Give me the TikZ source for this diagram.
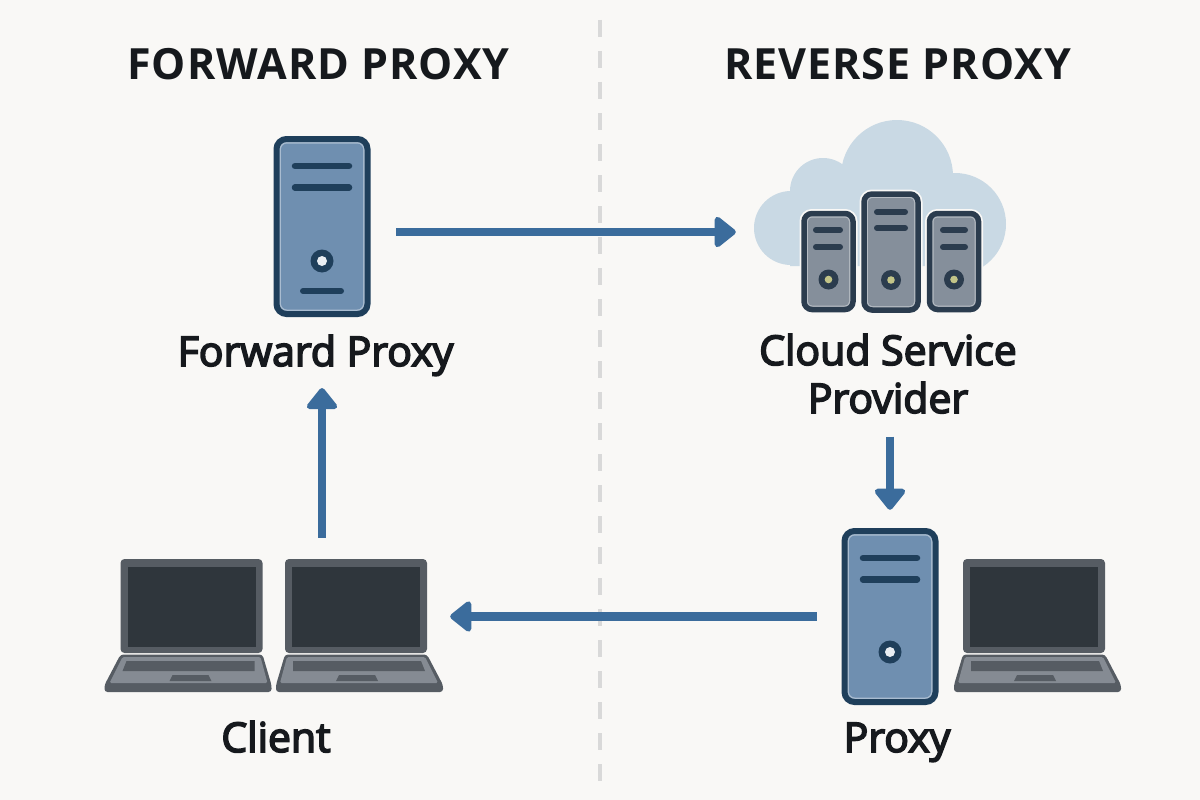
\documentclass[tikz,border=0pt]{standalone}
\usepackage{fontspec}
\setmainfont{Open Sans}
\newfontfamily\labelfont[FakeBold=4]{Open Sans}
\newfontfamily\headfont[LetterSpace=2.3]{Open Sans}
\usetikzlibrary{arrows.meta, positioning}

\definecolor{paper}{HTML}{F9F8F6}
\definecolor{inkblack}{HTML}{16191D}
\definecolor{arrowblue}{HTML}{3B6C9C}
\definecolor{towerdark}{HTML}{1F3F5B}
\definecolor{towerfill}{HTML}{6F8FB0}
\definecolor{rackdark}{HTML}{2B3C4E}
\definecolor{rackfill}{HTML}{858F9B}
\definecolor{cloudfill}{HTML}{C9D9E4}
\definecolor{lapcase}{HTML}{565C63}
\definecolor{lapbase}{HTML}{858B93}
\definecolor{lapscreen}{HTML}{2F363C}
\definecolor{knoblight}{HTML}{C2C488}

\tikzset{
	pics/tower/.style 2 args={code={
		\draw[towerdark, line width=6pt, fill=white!40!towerfill, rounded corners=10pt] (-45.5,-#1) rectangle (45.5,#1);
		\fill[towerfill, rounded corners=6pt] (-41,-#1+4.5) rectangle (41,#1-4.5);
		\draw[towerdark, line width=6.5pt, line cap=round] (-27,-#1+27) -- (27,-#1+27) (-27,-#1+48.5) -- (27,-#1+48.5);
		\fill[towerdark] (0,#2) circle (11.5pt);
		\fill[white!85!towerfill] (0,#2) circle (5pt);
	}},
	pics/rack/.style 2 args={code={
		\draw[paper, line width=9pt, rounded corners=8pt] (-#1,-#2) rectangle (#1,#2);
		\draw[rackdark, line width=5.5pt, fill=white!40!rackfill, rounded corners=8pt] (-#1,-#2) rectangle (#1,#2);
		\fill[rackfill, rounded corners=4pt] (-#1+4,-#2+4) rectangle (#1-4,#2-4);
		\fill[rackdark] (0,#2-30) circle (10pt);
		\fill[knoblight] (0,#2-30) circle (3.8pt);
	}},
	pics/laptop/.style={code={
		% lid, then base, keys and pad
		\fill[lapcase, rounded corners=4pt] (-71,-47) rectangle (71,47);
		\fill[lapscreen] (-64,-39) rectangle (64,41);
		\fill[lapcase, rounded corners=3pt] (-71,48.5) -- (71,48.5) -- (87,79) -- (87,86) -- (-80,86) -- (-80,79) -- cycle;
		\fill[lapbase, rounded corners=1.5pt] (-69,51) -- (69,51) -- (82,77) -- (-76,77) -- cycle;
		\fill[lapcase] (-63,55) -- (65,55) -- (69,65) -- (-63,65) -- cycle;
		\fill[lapcase] (-17,69) -- (19,69) -- (22,75) -- (-20,75) -- cycle;
	}}
}

\begin{document}
\begin{tikzpicture}
% style
	[x=1pt, y=-1pt,
	title/.style={font=\headfont\bfseries\fontsize{43}{43}\selectfont, text=inkblack, inner sep=0pt},
	caption/.style={font=\labelfont\fontsize{41}{48}\selectfont, text=inkblack, inner sep=0pt, align=center},
	box/.style={rectangle, inner sep=0pt, minimum width=#1},
	link/.style={draw=arrowblue, line width=8.5pt, -{Triangle[length=23pt, width=35pt, round]}}]

	\fill[paper] (0,0) rectangle (1200,800);
	\draw[black!15, line width=3.5pt, dash pattern=on 17pt off 14pt] (600,20) -- (600,790);

	% headings
	\node [title] (forward) at (318.5,64) {FORWARD PROXY};
	\node [title] (reverse) at (897.5,64) {REVERSE PROXY};

	% forward proxy
	\node [box=96pt, minimum height=175pt] (fwdbox) at (322,226.5) {};
	\pic at (fwdbox) {tower={87.5}{34.5}};
	\draw[towerdark, line width=6pt, line cap=round] (303,291) -- (341,291);
	\node [caption, anchor=base] (fwdlabel) at (315.5,366) {Forward Proxy};

	% cloud
	\fill[cloudfill] (897,176) circle (56pt) (823,191) circle (33pt) (791,228) circle (37pt)
		(955,224) circle (51pt) (790,190) rectangle (957,266);
	\node [box=252pt, minimum height=190pt] (cloud) at (880,217) {};
	\pic at (828.5,261.5) {rack={24.5}{48}};
	\pic at (954,261.5) {rack={24.5}{48}};
	\pic at (891,252) {rack={27}{58}};
	\draw[rackdark, line width=6pt, line cap=round]
		(816,230) -- (840,230) (816,247) -- (840,247)
		(877,212) -- (905,212) (877,228) -- (905,228)
		(943,230) -- (965,230) (943,247) -- (965,247);
	\node [caption, anchor=base] (cloudlabel) at (888,413) {Cloud Service\\Provider};

	% proxy
	\node [box=96pt, minimum height=171pt] (revbox) at (890,616.5) {};
	\pic at (revbox) {tower={85.5}{35.5}};
	\node [caption, anchor=base] (revlabel) at (897,752) {Proxy};
	\pic at (1034,606) {laptop};

	% clients
	\node [box=342pt, minimum height=133pt] (clients) at (273,625.5) {};
	\pic[xscale=-1] at (191.5,606) {laptop};
	\pic at (356,606) {laptop};
	\node [caption, anchor=base] (clientlabel) at (276,752) {Client};

	% links
	\path[link, shorten <=26pt, shorten >=18pt] ([yshift=-5.5pt]fwdbox.east) -- ([yshift=-5.5pt]fwdbox.east -| cloud.west);
	\path[link, shorten <=23pt, shorten >=21pt] (revbox |- cloudlabel.south) -- (revbox.north);
	\path[link, shorten <=25pt, shorten >=6pt] (revbox.west) -- (revbox.west -| clients.east);
	\path[link, shorten <=21pt, shorten >=12pt] (fwdbox |- clients.north) -- (fwdbox |- fwdlabel.south);
\end{tikzpicture}
\end{document}
